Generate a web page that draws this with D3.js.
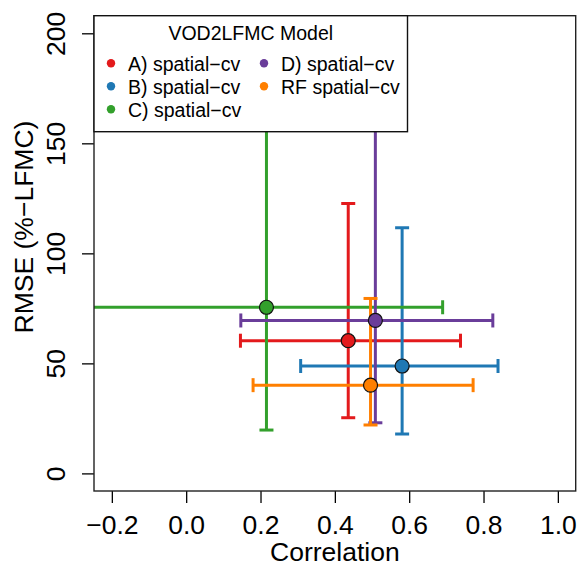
<!DOCTYPE html>
<html lang="en">
<head>
<meta charset="utf-8">
<title>VOD2LFMC error bars</title>
<script src="https://cdn.jsdelivr.net/npm/d3@7"></script>
<style>
  body { margin: 0; background: #fff; }
  svg text { font-family: "Liberation Sans", Arial, sans-serif; fill: #000; }
</style>
</head>
<body>
<script>
// data
var models  = ["A) spatial\u2212cv", "B) spatial\u2212cv", "C) spatial\u2212cv", "D) spatial\u2212cv", "RF spatial\u2212cv"];
var colors  = ["#E31A1C", "#1F78B4", "#33A02C", "#6A3D9A", "#FF7F00"];
var corr    = [0.436, 0.581, 0.216, 0.509, 0.496];
var corrLo  = [0.146, 0.308, -0.26, 0.147, 0.180];
var corrHi  = [0.738, 0.839, 0.690, 0.825, 0.772];
var rmse    = [60.3, 48.8, 75.5, 69.5, 40.1];
var rmseLo  = [25.3, 17.9, 19.7, 23.0, 22.0];
var rmseHi  = [122.7, 111.6, 165, 170, 79.5];
var xTicks  = [-0.2, 0, 0.2, 0.4, 0.6, 0.8, 1.0];
var yTicks  = [0, 50, 100, 150, 200];

var w = 580, h = 568;
var pLeft = 94, pRight = 575.7, pTop = 15.7, pBottom = 491;

var svg = d3.select("body").append("svg")
    .attr("width", w)
    .attr("height", h);

var x = d3.scaleLinear().domain([-0.248, 1.048]).range([pLeft, pRight]);
var y = d3.scaleLinear().domain([-8, 208]).range([pBottom, pTop]);

svg.append("clipPath").attr("id", "plotclip")
  .append("rect")
    .attr("x", pLeft).attr("y", pTop)
    .attr("width", pRight - pLeft).attr("height", pBottom - pTop);

var data = models.map(function(m, i) {
  return {name: m, color: colors[i], x: corr[i], xl: corrLo[i], xh: corrHi[i],
          y: rmse[i], yl: rmseLo[i], yh: rmseHi[i]};
});

var plot = svg.append("g").attr("clip-path", "url(#plotclip)");
var cap = 7;

// error bars, one series after the other
data.forEach(function(d) {
  var g = plot.append("g")
      .attr("stroke", d.color)
      .attr("stroke-width", 3)
      .attr("fill", "none");
  g.append("line")
      .attr("x1", x(d.x)).attr("x2", x(d.x))
      .attr("y1", y(d.yl)).attr("y2", y(d.yh));
  g.append("line")
      .attr("x1", x(d.x) - cap).attr("x2", x(d.x) + cap)
      .attr("y1", y(d.yl)).attr("y2", y(d.yl));
  g.append("line")
      .attr("x1", x(d.x) - cap).attr("x2", x(d.x) + cap)
      .attr("y1", y(d.yh)).attr("y2", y(d.yh));
  g.append("line")
      .attr("x1", x(d.xl)).attr("x2", x(d.xh))
      .attr("y1", y(d.y)).attr("y2", y(d.y));
  g.append("line")
      .attr("x1", x(d.xl)).attr("x2", x(d.xl))
      .attr("y1", y(d.y) - cap).attr("y2", y(d.y) + cap);
  g.append("line")
      .attr("x1", x(d.xh)).attr("x2", x(d.xh))
      .attr("y1", y(d.y) - cap).attr("y2", y(d.y) + cap);
});

// points on top
plot.selectAll("circle.pt")
    .data(data)
    .enter()
    .append("circle")
    .attr("class", "pt")
    .attr("cx", function(d) { return x(d.x); })
    .attr("cy", function(d) { return y(d.y); })
    .attr("r", 7)
    .attr("fill", function(d) { return d.color; })
    .attr("stroke", "#111")
    .attr("stroke-width", 1.2);

// axes
var fontSize = 26.5;
var xAxis = svg.append("g")
    .attr("transform", "translate(0," + pBottom + ")")
    .call(d3.axisBottom(x).tickValues(xTicks).tickSize(12).tickFormat(d3.format(".1f")));
xAxis.select(".domain").remove();
xAxis.selectAll("line").attr("stroke", "#000").attr("stroke-width", 1.3);
xAxis.selectAll("text")
    .attr("y", 43).attr("dy", 0)
    .attr("font-size", fontSize);

var yAxis = svg.append("g")
    .attr("transform", "translate(" + pLeft + ",0)")
    .call(d3.axisLeft(y).tickValues(yTicks).tickSize(12));
yAxis.select(".domain").remove();
yAxis.selectAll("line").attr("stroke", "#000").attr("stroke-width", 1.3);
yAxis.selectAll("text")
    .attr("x", 0).attr("y", 0).attr("dy", 0)
    .attr("text-anchor", "middle")
    .attr("transform", "translate(-29,0) rotate(-90)")
    .attr("font-size", fontSize);

svg.append("rect")
    .attr("x", pLeft).attr("y", pTop)
    .attr("width", pRight - pLeft).attr("height", pBottom - pTop)
    .attr("fill", "none")
    .attr("stroke", "#222")
    .attr("stroke-width", 1.4);

svg.append("text")
    .attr("x", (pLeft + pRight) / 2)
    .attr("y", 561)
    .attr("text-anchor", "middle")
    .attr("font-size", fontSize)
    .text("Correlation");

svg.append("text")
    .attr("transform", "translate(33,227) rotate(-90)")
    .attr("text-anchor", "middle")
    .attr("font-size", fontSize)
    .text("RMSE (%\u2212LFMC)");

// legend
var lg = svg.append("g");
lg.append("rect")
    .attr("x", pLeft).attr("y", pTop)
    .attr("width", 313.5).attr("height", 116)
    .attr("fill", "#fff")
    .attr("stroke", "#111")
    .attr("stroke-width", 1.4);
lg.append("text")
    .attr("x", pLeft + 313.5 / 2)
    .attr("y", 40)
    .attr("text-anchor", "middle")
    .attr("font-size", 19.5)
    .text("VOD2LFMC Model");

var colX = [111, 264];
var rows = lg.selectAll("g.item")
    .data(data)
    .enter()
    .append("g")
    .attr("class", "item")
    .attr("transform", function(d, i) {
      return "translate(" + colX[i < 3 ? 0 : 1] + "," + (63.3 + 23 * (i < 3 ? i : i - 3)) + ")";
    });
rows.append("circle")
    .attr("r", 4.2)
    .attr("fill", function(d) { return d.color; });
rows.append("text")
    .attr("x", 17)
    .attr("y", 7.3)
    .attr("font-size", 19.5)
    .text(function(d) { return d.name; });
</script>
</body>
</html>
